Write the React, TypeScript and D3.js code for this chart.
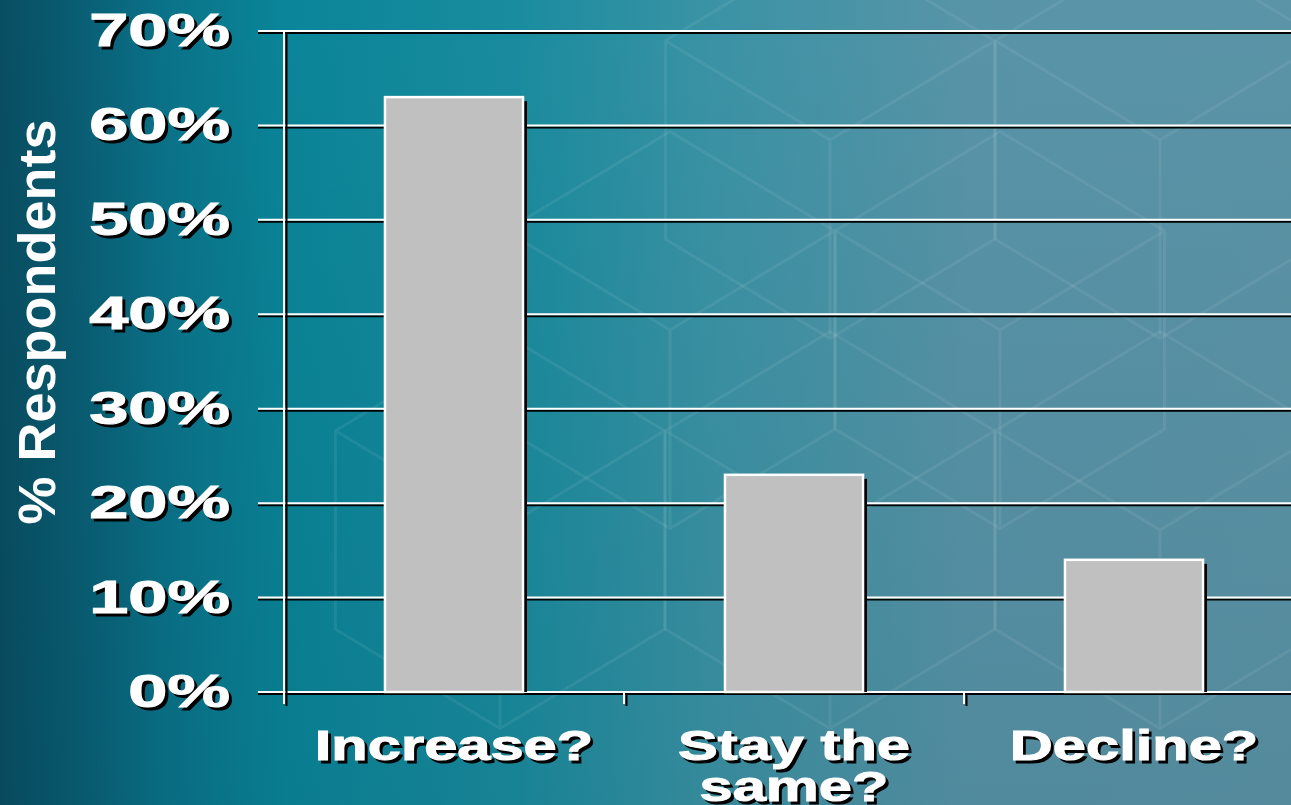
import React from "react";
import * as d3 from "d3";

const categories: string[][] = [["Increase?"], ["Stay the", "same?"], ["Decline?"]];
const values: number[] = [63, 23, 14];
const yTicks: number[] = [0, 10, 20, 30, 40, 50, 60, 70];
const yLabel = "% Respondents";

const W = 1291;
const H = 805;

export default function App() {
  const x = d3
    .scaleBand<number>()
    .domain(d3.range(categories.length))
    .range([284, 1304])
    .paddingInner(0.594)
    .paddingOuter(0.297);
  const y = d3.scaleLinear().domain([0, 70]).range([692, 31]);
  const step = x.step();
  const shadow = "#000";

  // decorative faint isometric lines
  const hexes: [number, number][] = [
    [830, 140], [1160, 140], [830, 530], [1160, 530], [500, 530], [1000, 330], [670, 330],
  ];
  const R = 190;
  const hexPath = (cx: number, cy: number) => {
    const pts = d3.range(6).map((i) => {
      const a = (Math.PI / 3) * i + Math.PI / 6;
      return [cx + R * Math.cos(a), cy + R * 0.55 * Math.sin(a) * 1.9] as [number, number];
    });
    return "M" + pts.map((p) => p.join(",")).join("L") + "Z" +
      `M${cx},${cy}L${cx},${cy + R * 1.04}M${cx},${cy}L${pts[3][0]},${pts[3][1]}M${cx},${cy}L${pts[5][0]},${pts[5][1]}`;
  };

  return (
    <svg width={W} height={H} style={{ position: "absolute", left: 0, top: 0, display: "block" }}>
      <defs>
        <linearGradient id="bg" x1="0" y1="0" x2="1" y2="0">
          <stop offset="0" stopColor="#0b5a70" />
          <stop offset="0.1" stopColor="#0a6d84" />
          <stop offset="0.22" stopColor="#0a8599" />
          <stop offset="0.4" stopColor="#1a8c9f" />
          <stop offset="0.55" stopColor="#3a93a5" />
          <stop offset="0.75" stopColor="#5894a8" />
          <stop offset="1" stopColor="#5b94a7" />
        </linearGradient>
        <linearGradient id="shade" x1="0" y1="0" x2="0" y2="1">
          <stop offset="0" stopColor="#000" stopOpacity="0" />
          <stop offset="1" stopColor="#001820" stopOpacity="0.08" />
        </linearGradient>
        <linearGradient id="leftShade" x1="0" y1="0" x2="1" y2="0">
          <stop offset="0" stopColor="#002a38" stopOpacity="0.25" />
          <stop offset="1" stopColor="#002a38" stopOpacity="0" />
        </linearGradient>
      </defs>
      <rect x={0} y={0} width={W} height={H} fill="url(#bg)" />
      <rect x={0} y={0} width={W} height={H} fill="url(#shade)" />
      <rect x={0} y={0} width={160} height={H} fill="url(#leftShade)" />
      <g fill="none" stroke="#ffffff" strokeOpacity={0.07} strokeWidth={3}>
        {hexes.map(([cx, cy], i) => (
          <path key={i} d={hexPath(cx, cy)} />
        ))}
      </g>

      {/* gridlines */}
      <g>
        {yTicks.map((t) => (
          <g key={t}>
            <line x1={258} x2={W} y1={y(t) + 2} y2={y(t) + 2} stroke={shadow} strokeWidth={2} />
            <line x1={258} x2={W} y1={y(t)} y2={y(t)} stroke="#fff" strokeWidth={2} />
          </g>
        ))}
      </g>

      {/* y axis line */}
      <line x1={286.5} x2={286.5} y1={33} y2={706} stroke={shadow} strokeWidth={2} />
      <line x1={284} x2={284} y1={30} y2={704} stroke="#fff" strokeWidth={2} />
      {/* x ticks */}
      {d3.range(1, categories.length + 1).map((i) => {
        const xx = 284 + step * i;
        return (
          <g key={i}>
            <line x1={xx + 2.5} x2={xx + 2.5} y1={694} y2={706} stroke={shadow} strokeWidth={2} />
            <line x1={xx} x2={xx} y1={692} y2={704} stroke="#fff" strokeWidth={2} />
          </g>
        );
      })}

      {/* bars */}
      {values.map((v, i) => {
        const bx = x(i)!;
        const bw = x.bandwidth();
        return (
          <g key={i}>
            <rect x={bx + 4} y={y(v) + 4} width={bw} height={y(0) - y(v) - 4} fill={shadow} />
            <rect x={bx} y={y(v)} width={bw} height={y(0) - y(v)} fill="#c0c0c0" stroke="#fff" strokeWidth={2.5} />
          </g>
        );
      })}

      {/* y tick labels */}
      <g fontFamily="'Liberation Sans', Arial, sans-serif" fontWeight="bold" fontSize={46}>
        {yTicks.map((t) => (
          <g key={t} transform={`translate(230,${y(t) + 15}) scale(1.53,1)`}>
            <text x={2} y={3} textAnchor="end" fill="#000" stroke="#000" strokeWidth={1}>{t + "%"}</text>
            <text x={0} y={0} textAnchor="end" fill="#fff" stroke="#fff" strokeWidth={1}>{t + "%"}</text>
          </g>
        ))}
      </g>

      {/* category labels */}
      <g fontFamily="'Liberation Sans', Arial, sans-serif" fontWeight="bold" fontSize={42}>
        {categories.map((lines, i) => {
          const cx = x(i)! + x.bandwidth() / 2;
          return lines.map((ln, j) => (
            <g key={i + "-" + j} transform={`translate(${cx},${760 + j * 41}) scale(1.42,1)`}>
              <text x={2} y={3} textAnchor="middle" fill="#000" stroke="#000" strokeWidth={1}>{ln}</text>
              <text x={0} y={0} textAnchor="middle" fill="#fff" stroke="#fff" strokeWidth={1}>{ln}</text>
            </g>
          ));
        })}
      </g>

      {/* y axis title */}
      <text
        transform={`translate(55,${322}) rotate(-90)`}
        textAnchor="middle"
        fontFamily="'Liberation Sans', Arial, sans-serif"
        fontWeight="bold"
        fontSize={51}
        fill="#fff"
        textLength={405}
        lengthAdjust="spacingAndGlyphs"
      >
        {yLabel}
      </text>
    </svg>
  );
}
